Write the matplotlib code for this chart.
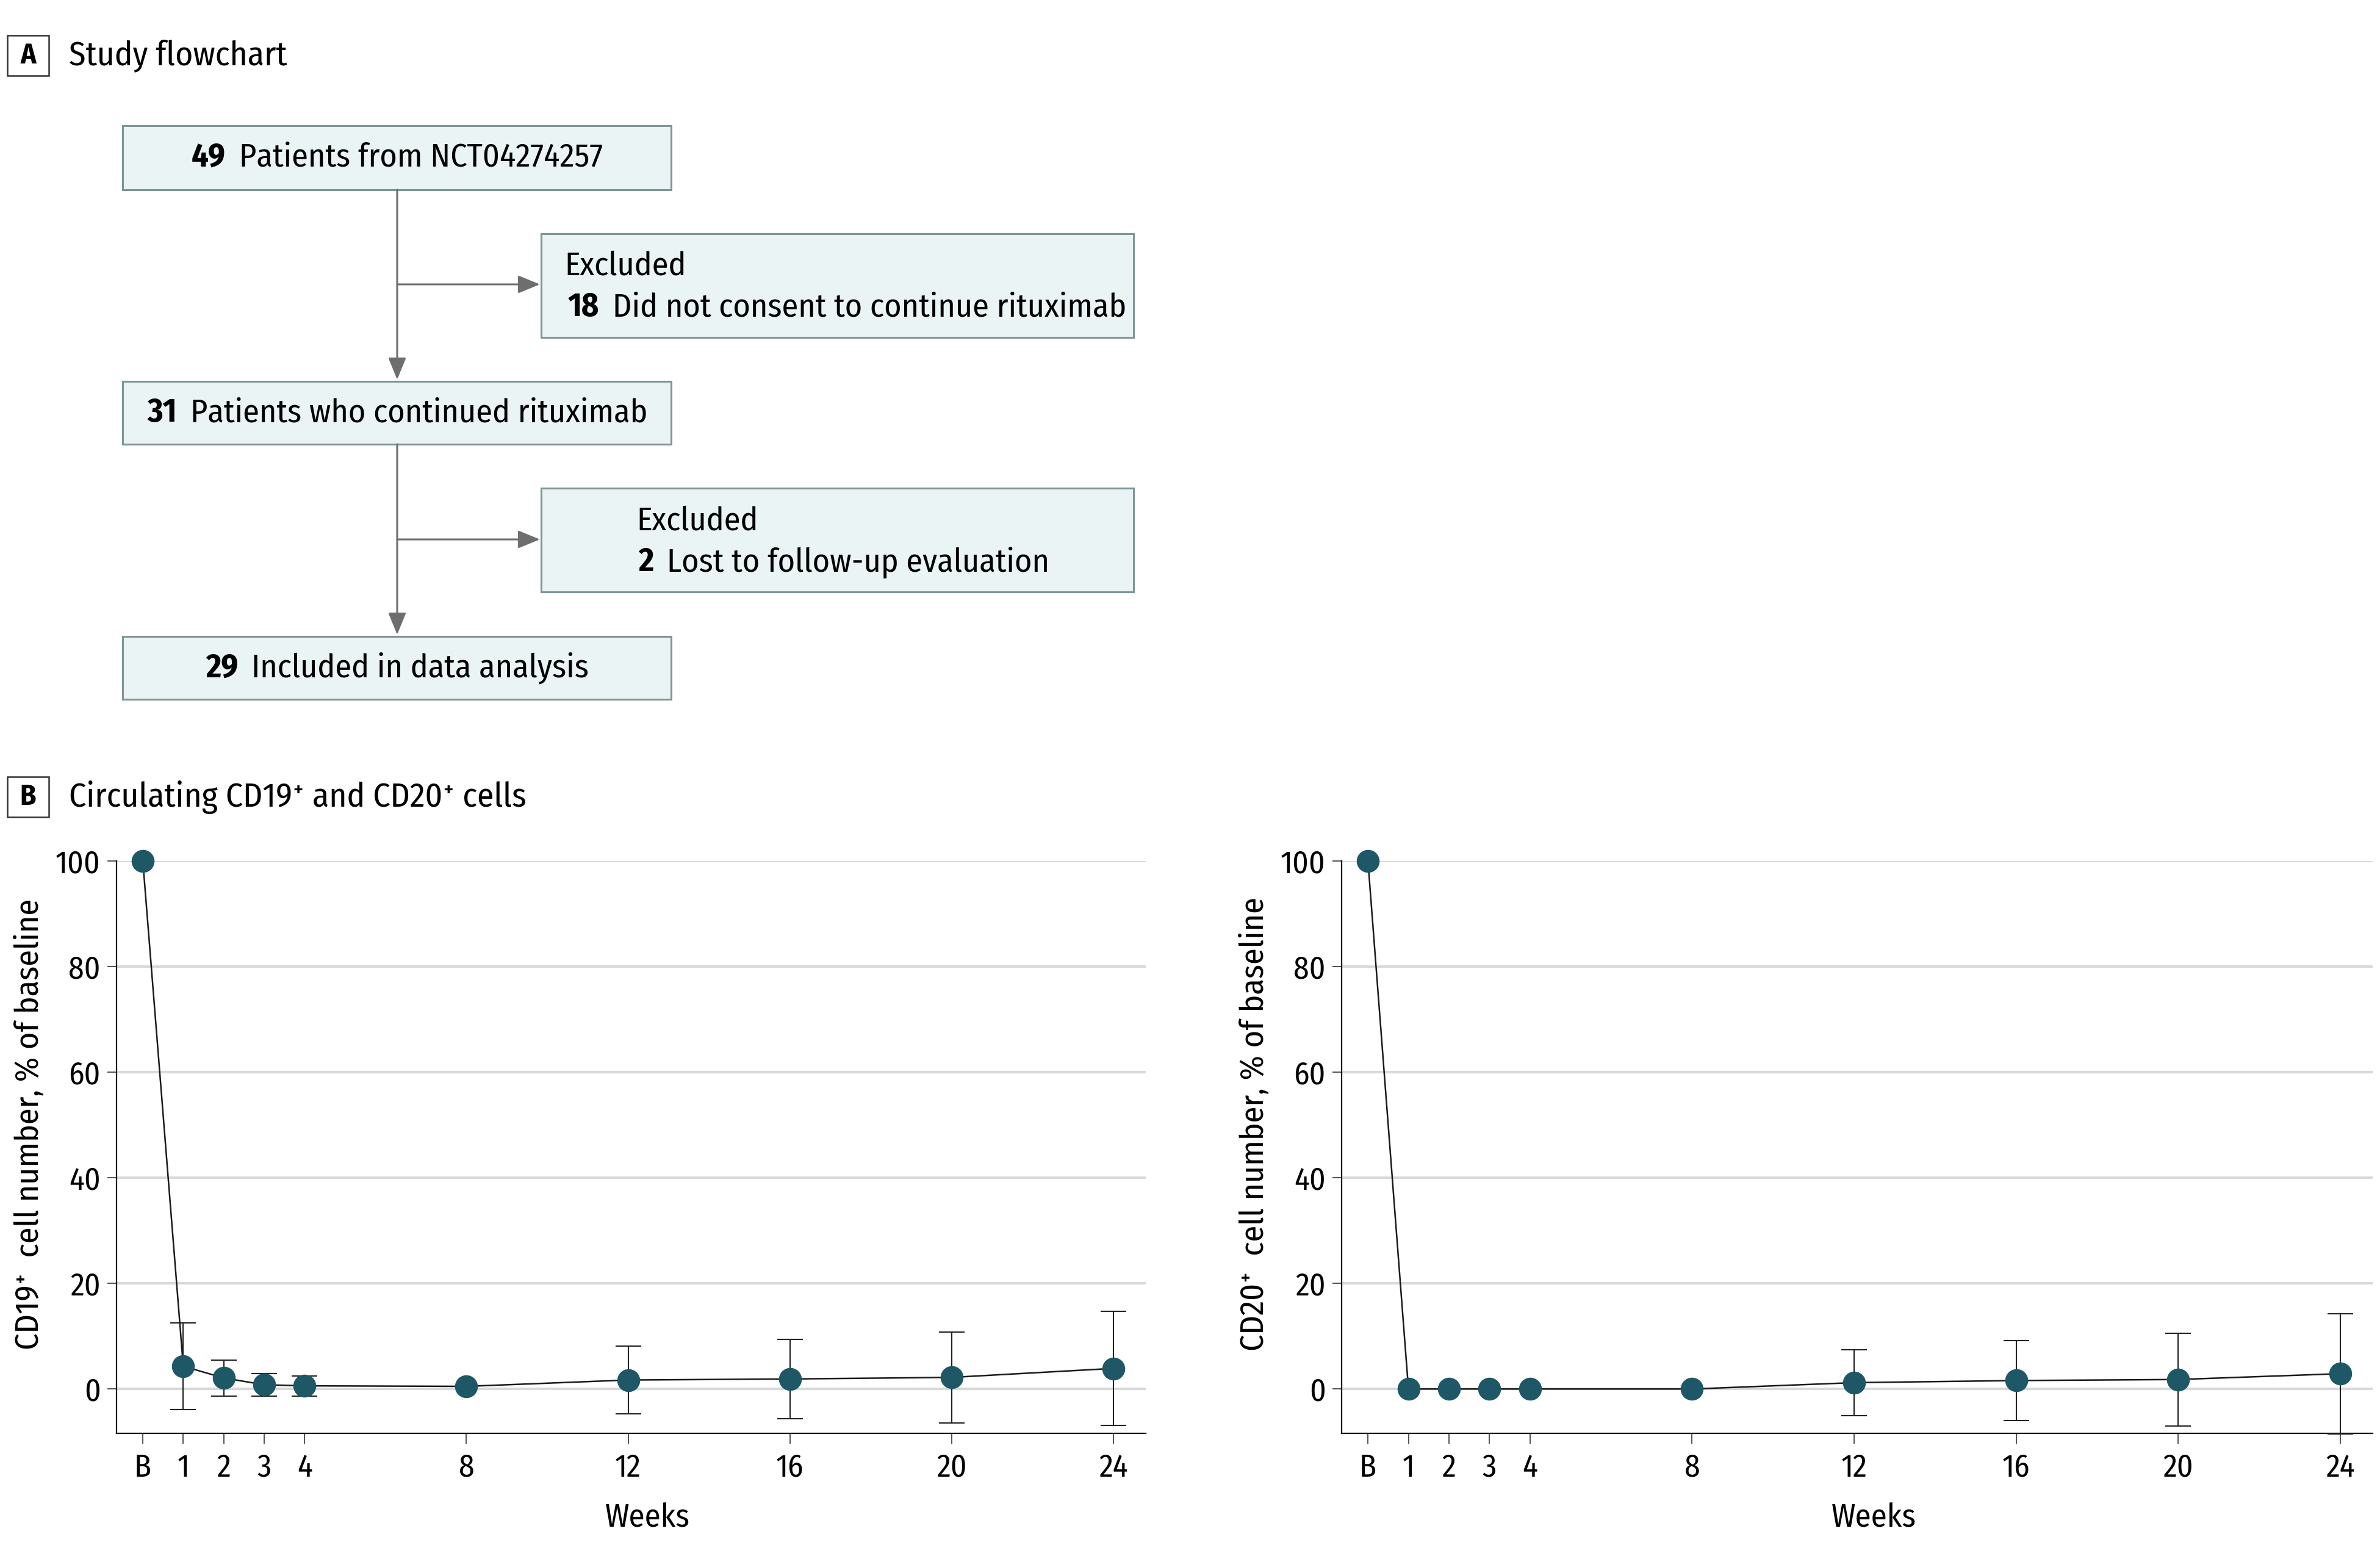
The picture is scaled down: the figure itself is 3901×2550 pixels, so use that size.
import matplotlib
matplotlib.use("Agg")
import matplotlib.pyplot as plt
from matplotlib.patches import Rectangle

# шрифт: вузький гротеск, з запасними варіантами
FONT = ["Fira Sans Condensed", "Roboto Condensed", "DejaVu Sans"]
plt.rcParams["font.family"] = FONT

# дані потоку пацієнтів
flow_counts = [49, 18, 31, 2, 29]
flow_texts = ["Patients from NCT04274257", "Did not consent to continue rituximab",
              "Patients who continued rituximab", "Lost to follow-up evaluation",
              "Included in data analysis"]

# дані графіків (тижні, B = 0)
weeks = [0, 1, 2, 3, 4, 8, 12, 16, 20, 24]
week_labels = ["B", "1", "2", "3", "4", "8", "12", "16", "20", "24"]
cd19_mean = [100, 4.3, 2.1, 0.8, 0.6, 0.5, 1.7, 1.9, 2.2, 3.9]
cd19_sd = [0, 8.2, 3.4, 2.1, 1.9, 0, 6.4, 7.5, 8.6, 10.8]
cd20_mean = [100, 0.0, 0.0, 0.0, 0.0, 0.0, 1.2, 1.6, 1.8, 2.9]
cd20_sd = [0, 0, 0, 0, 0, 0, 6.2, 7.6, 8.8, 11.4]

W, H = 3901, 2550
fig = plt.figure(figsize=(W / 100, H / 100), dpi=100)

# полотно для блок-схеми в пікселях
fa = fig.add_axes([0, 0, 1, 1])
fa.set_xlim(0, W)
fa.set_ylim(H, 0)
fa.axis("off")

box_fc = "#EAF4F5"
box_ec = "#7F9597"
arrow_c = "#6E6E6E"
fs_flow = 39
gap = 22
renderer = fig.canvas.get_renderer()


def text_width(t):
    return t.get_window_extent(renderer=renderer).width


def num_text(x, y, num, txt, center=False):
    a = fa.text(x, y, str(num), fontsize=fs_flow, fontweight="bold", va="center", ha="left")
    wa = text_width(a)
    b = fa.text(x + wa + gap, y, txt, fontsize=fs_flow, va="center", ha="left")
    if center:
        total = wa + gap + text_width(b)
        a.set_x(x - total / 2)
        b.set_x(x - total / 2 + wa + gap)


def box(x0, y0, x1, y1):
    fa.add_patch(Rectangle((x0, y0), x1 - x0, y1 - y0, fc=box_fc, ec=box_ec, lw=2.2))


def panel_label(y, letter, title):
    fa.add_patch(Rectangle((12, y - 34), 68, 66, fc="white", ec="#333333", lw=1.8))
    fa.text(46, y, letter, fontsize=34, fontweight="bold", ha="center", va="center")
    fa.text(113, y, title, fontsize=40, ha="left", va="center")


panel_label(92, "A", "Study flowchart")

cx = 651
box(201, 206, 1100, 311)
num_text(cx, 258, flow_counts[0], flow_texts[0], center=True)
box(887, 383, 1858, 553)
fa.text(925, 436, "Excluded", fontsize=fs_flow, va="center")
num_text(931, 504, flow_counts[1], flow_texts[1])
box(201, 625, 1100, 728)
num_text(cx, 677, flow_counts[2], flow_texts[2], center=True)
box(887, 800, 1858, 970)
fa.text(1043, 854, "Excluded", fontsize=fs_flow, va="center")
num_text(1046, 922, flow_counts[3], flow_texts[3])
box(201, 1043, 1100, 1146)
num_text(cx, 1095, flow_counts[4], flow_texts[4], center=True)

ak = dict(arrowstyle="-|>,head_length=1.1,head_width=0.45", color=arrow_c, lw=2.2,
          shrinkA=0, shrinkB=0, mutation_scale=20)
fa.annotate("", xy=(cx, 622), xytext=(cx, 311), arrowprops=ak)
fa.annotate("", xy=(885, 466), xytext=(cx, 466), arrowprops=ak)
fa.annotate("", xy=(cx, 1040), xytext=(cx, 728), arrowprops=ak)
fa.annotate("", xy=(885, 884), xytext=(cx, 884), arrowprops=ak)

panel_label(1307, "B", "Circulating CD19\u207a and CD20\u207a cells")

# графіки
mk_color = "#1E5765"


def draw_panel(rect, mean, sd, ylabel):
    ax = fig.add_axes(rect)
    # вуса похибок лише там, де SD > 0
    ex = [w for w, s in zip(weeks, sd) if s > 0]
    ey = [m for m, s in zip(mean, sd) if s > 0]
    es = [s for s in sd if s > 0]
    ax.errorbar(ex, ey, yerr=es, fmt="none", ecolor="#222222", elinewidth=1.5,
                capsize=15, capthick=1.5, zorder=3, clip_on=False)
    ax.plot(weeks, mean, color="#1a1a1a", lw=1.8, zorder=4, clip_on=False)
    ax.plot(weeks, mean, "o", ms=26, color=mk_color, mec=mk_color, zorder=5, clip_on=False)
    ax.set_xlim(-0.65, 24.8)
    ax.set_ylim(-8.4, 100)
    ax.set_yticks([0, 20, 40, 60, 80, 100])
    ax.set_xticks(weeks)
    ax.set_xticklabels(week_labels)
    ax.grid(axis="y", color="#D9D9D9", lw=3)
    ax.set_axisbelow(True)
    for s in ["top", "right"]:
        ax.spines[s].set_visible(False)
    ax.spines["left"].set_linewidth(1.6)
    ax.spines["bottom"].set_linewidth(1.6)
    ax.tick_params(axis="both", labelsize=37, width=1.2, color="#333333")
    ax.tick_params(axis="y", length=11, pad=8)
    ax.tick_params(axis="x", length=12, pad=11)
    ax.set_xlabel("Weeks", fontsize=38, labelpad=22)
    ax.xaxis.label.set_x(0.516)
    ax.set_ylabel(ylabel, fontsize=39)
    ax.yaxis.set_label_coords(-0.069, 0.54)
    return ax


bottom = 1 - 2349 / H
height = (2349 - 1411) / H
draw_panel([191 / W, bottom, (1878 - 191) / W, height], cd19_mean, cd19_sd,
           "CD19\u207a  cell number, % of baseline")
draw_panel([2199 / W, bottom, (3889 - 2199) / W, height], cd20_mean, cd20_sd,
           "CD20\u207a  cell number, % of baseline")

fig.savefig("out.png", dpi=100)
